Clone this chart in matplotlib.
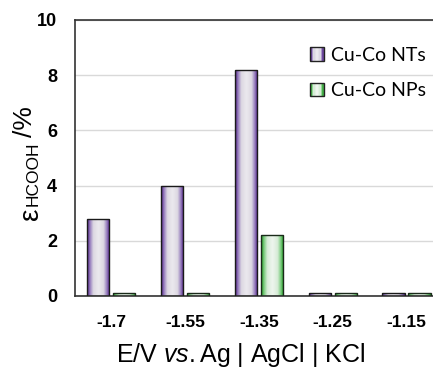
import numpy as np
import matplotlib
matplotlib.use("Agg")
import matplotlib.pyplot as plt
from matplotlib.colors import LinearSegmentedColormap
from matplotlib.patches import Rectangle
from matplotlib.legend_handler import HandlerBase

plt.rcParams["mathtext.fontset"] = "custom"
plt.rcParams["mathtext.it"] = "Liberation Sans:italic"
plt.rcParams["mathtext.rm"] = "Liberation Sans"

# ---- data ----
categories = ["-1.7", "-1.55", "-1.35", "-1.25", "-1.15"]
nts_values = [2.8, 4.0, 8.2, 0.1, 0.1]
nps_values = [0.1, 0.1, 2.2, 0.1, 0.1]
series_labels = ["Cu-Co NTs", "Cu-Co NPs"]
y_ticks = [0, 2, 4, 6, 8, 10]

purple_cmap = LinearSegmentedColormap.from_list(
    "pur", [(0.0, "#4e2088"), (0.25, "#967cbd"), (0.55, "#dcd8e2"), (1.0, "#ebe9ee")])
green_cmap = LinearSegmentedColormap.from_list(
    "grn", [(0.0, "#1b9a1f"), (0.25, "#7acb7d"), (0.55, "#d7ecd7"), (1.0, "#eef5ee")])

W, H = 433, 369
fig = plt.figure(figsize=(4.33, 3.69), dpi=100)
ax = fig.add_axes([75/W, 73/H, 1.0 - 75/W + 0.002, 276/H])

x = np.arange(len(categories))
w = 0.30
off = 0.176

grad = 1 - np.abs(np.linspace(-1, 1, 64))
grad = grad[np.newaxis, :]

def gradient_bars(xpos, vals, cmap, edge):
    bars = ax.bar(xpos, vals, width=w, facecolor="none", edgecolor=edge,
                  linewidth=1.0, zorder=3)
    for b in bars:
        x0, y0 = b.get_x(), b.get_y()
        im = ax.imshow(grad, cmap=cmap, vmin=0, vmax=1, aspect="auto",
                       extent=[x0, x0 + b.get_width(), y0, y0 + b.get_height()],
                       interpolation="bilinear", zorder=2)
        im.set_clip_path(b)
    return bars

gradient_bars(x - off, nts_values, purple_cmap, "#1a1a1a")
gradient_bars(x + off, nps_values, green_cmap, "#1a2a1a")

ax.set_xlim(-0.488, 4.37)
ax.set_ylim(0, 10)
ax.set_yticks(y_ticks)
ax.set_yticklabels([str(t) for t in y_ticks], fontfamily="Liberation Sans",
                   fontweight="bold", fontsize=13)
ax.set_xticks(x)
ax.set_xticklabels(categories, fontfamily="Liberation Sans",
                   fontweight="bold", fontsize=12.5)
ax.tick_params(axis="y", length=0, pad=13)
ax.tick_params(axis="x", length=0, pad=14)
ax.yaxis.grid(True, color="#d9d9d9", linewidth=1.0, zorder=0)
ax.set_axisbelow(True)
for s in ["left", "top", "bottom"]:
    ax.spines[s].set_color("#333333")
    ax.spines[s].set_linewidth(1.2)
ax.spines["right"].set_visible(False)

# x label
fig.text(241/W, 1 - 362/H, r"E/V $\mathit{vs.}$Ag | AgCl | KCl",
         fontfamily="Liberation Sans", fontsize=18, ha="center", va="baseline")

# y label built from pieces, chained by rendered extents
renderer = fig.canvas.get_renderer()

def ytxt(xpx, ypx, s, size):
    return fig.text(xpx/W, 1 - ypx/H, s, rotation=90, rotation_mode="anchor",
                    ha="left", va="baseline", fontfamily="Liberation Sans",
                    fontsize=size)

t1 = ytxt(38, 220, "ε", 20)
top1 = H - t1.get_window_extent(renderer).y1
t2 = ytxt(38, top1 - 2, "HCOOH", 12.5)
top2 = H - t2.get_window_extent(renderer).y1
t3 = ytxt(32, top2 - 4, "/%", 19)

# legend with gradient squares
class GradHandler(HandlerBase):
    def __init__(self, cmap):
        super().__init__()
        self.cmap = cmap
    def create_artists(self, legend, orig_handle, xdescent, ydescent, width,
                       height, fontsize, trans):
        n = 9
        arts = []
        sz = min(width, height)
        x0 = -xdescent
        y0 = -ydescent + (height - sz) / 2
        for i in range(n):
            v = 1 - abs((i + 0.5) / n * 2 - 1)
            r = Rectangle((x0 + i * sz / n, y0), sz / n + 0.01, sz,
                          facecolor=self.cmap(v), edgecolor="none", transform=trans)
            arts.append(r)
        arts.append(Rectangle((x0, y0), sz, sz, facecolor="none",
                              edgecolor="#222222", linewidth=1.0, transform=trans))
        return arts

h1 = Rectangle((0, 0), 1, 1)
h2 = Rectangle((0, 0), 1, 1)
leg = ax.legend([h1, h2], series_labels,
                handler_map={h1: GradHandler(purple_cmap), h2: GradHandler(green_cmap)},
                loc="upper left", bbox_to_anchor=(310/W, 1 - 47/H),
                bbox_transform=fig.transFigure, frameon=False,
                prop={"family": "Lato", "size": 14},
                handlelength=0.7, handleheight=0.7, handletextpad=0.4,
                labelspacing=0.95, borderpad=0, borderaxespad=0)

fig.savefig("out.png", dpi=100)
